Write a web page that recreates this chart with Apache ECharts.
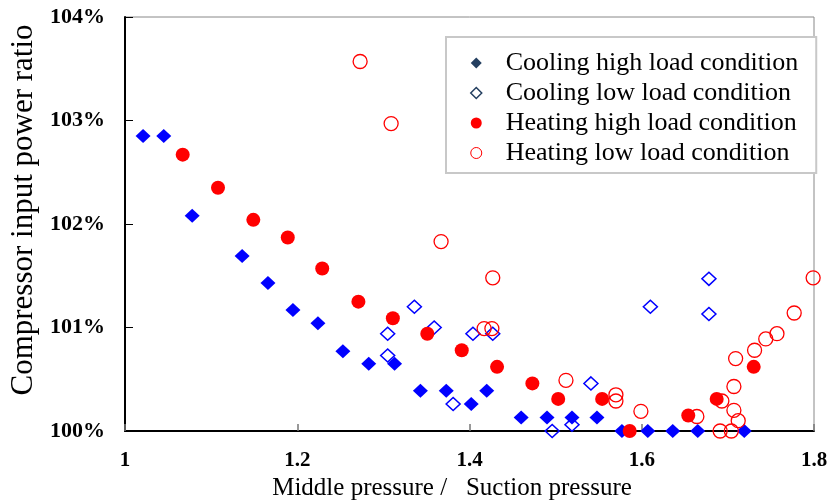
<!DOCTYPE html>
<html>
<head>
<meta charset="utf-8">
<script src="https://cdn.jsdelivr.net/npm/echarts@6/dist/echarts.min.js"></script>
<style>html,body{margin:0;padding:0;background:#fff;}#c{width:830px;height:503px;}</style>
</head>
<body>
<div id="c"></div>
<script>
var seriesNames = ['Cooling high load condition','Cooling low load condition','Heating high load condition','Heating low load condition'];
var xTicks = [1, 1.2, 1.4, 1.6, 1.8];
var yTicks = [100, 101, 102, 103, 104];
var coolingHigh = [
  [1.021,102.85],[1.045,102.85],[1.078,102.08],[1.136,101.69],[1.166,101.43],[1.195,101.17],
  [1.224,101.04],[1.253,100.77],[1.283,100.65],[1.313,100.65],[1.343,100.39],[1.373,100.39],
  [1.402,100.26],[1.420,100.39],[1.460,100.13],[1.490,100.13],[1.519,100.13],[1.548,100.13],
  [1.577,100.0],[1.607,100.0],[1.636,100.0],[1.665,100.0],[1.719,100.0]
];
var coolingLow = [
  [1.305,100.94],[1.305,100.73],[1.336,101.20],[1.359,101.00],[1.381,100.26],[1.404,100.94],
  [1.427,100.94],[1.496,100.0],[1.519,100.06],[1.541,100.46],[1.610,101.20],[1.678,101.47],[1.678,101.13]
];
var heatingHigh = [
  [1.067,102.67],[1.108,102.35],[1.149,102.04],[1.189,101.87],[1.229,101.57],[1.271,101.25],
  [1.311,101.09],[1.351,100.94],[1.391,100.78],[1.432,100.62],[1.473,100.46],[1.503,100.31],
  [1.554,100.31],[1.586,100.0],[1.654,100.15],[1.687,100.31],[1.730,100.62]
];
var heatingLow = [
  [1.273,103.57],[1.309,102.97],[1.367,101.83],[1.427,101.48],[1.417,100.99],[1.426,100.99],
  [1.512,100.49],[1.570,100.35],[1.570,100.29],[1.599,100.19],[1.664,100.14],[1.693,100.29],
  [1.707,100.43],[1.709,100.70],[1.707,100.20],[1.712,100.10],[1.691,100.0],[1.704,100.0],
  [1.731,100.78],[1.744,100.89],[1.757,100.94],[1.777,101.14],[1.799,101.48]
];

var serif = '"Liberation Serif","DejaVu Serif",serif';
var chart = echarts.init(document.getElementById('c'), null, {renderer:'canvas'});
chart.setOption({
  animation: false,
  backgroundColor: '#fff',
  grid: {left:125, right:16, top:17, bottom:72, outerBoundsMode:'none', containLabel:false,
         show:true, borderColor:'#888', borderWidth:1, backgroundColor:'transparent'},
  legend: {
    orient:'vertical', left:446, top:37,
    padding:[11,18,5,24], itemGap:0, itemWidth:11, itemHeight:11,
    borderColor:'#c8c8c8', borderWidth:2, backgroundColor:'#fff',
    textStyle:{fontFamily:serif, fontSize:26, color:'#000', lineHeight:30, padding:[0,0,0,19]},
    data:[
      {name:seriesNames[0], icon:'diamond', itemStyle:{color:'#243F60'}},
      {name:seriesNames[1], icon:'diamond', itemStyle:{color:'#fff', borderColor:'#243F60', borderWidth:1.5}},
      {name:seriesNames[2], icon:'circle', itemStyle:{color:'#FF0000'}},
      {name:seriesNames[3], icon:'circle', itemStyle:{color:'#fff', borderColor:'#FF0000', borderWidth:1}}
    ]
  },
  xAxis: {
    type:'value', min:xTicks[0], max:xTicks[xTicks.length-1], interval:0.2,
    name:'Middle pressure /   Suction pressure', nameLocation:'middle', nameGap:45,
    nameTextStyle:{fontFamily:serif, fontSize:25, color:'#000', padding:[0,35,0,0]},
    axisLine:{show:true, onZero:false, lineStyle:{color:'#000', width:2}},
    axisTick:{show:true, inside:true, length:7, lineStyle:{color:'#777', width:1.5}},
    axisLabel:{fontFamily:serif, fontSize:21, fontWeight:'bold', color:'#000', margin:19},
    splitLine:{show:false}
  },
  yAxis: {
    type:'value', min:yTicks[0], max:yTicks[yTicks.length-1], interval:1,
    name:'Compressor input power ratio', nameLocation:'middle', nameGap:85, nameRotate:90,
    nameTextStyle:{fontFamily:serif, fontSize:31, color:'#000', padding:[0,0,0,28]},
    axisLine:{show:true, onZero:false, lineStyle:{color:'#000', width:2}},
    axisTick:{show:true, inside:true, length:8, lineStyle:{color:'#000', width:1}},
    axisLabel:{fontFamily:serif, fontSize:22, fontWeight:'bold', color:'#000', margin:20, formatter:'{value}%'},
    splitLine:{show:false}
  },
  series: [
    {name:seriesNames[0], type:'scatter', data:coolingHigh, symbol:'diamond', symbolSize:[15,14],
     itemStyle:{color:'#0000FF', opacity:1}, clip:false},
    {name:seriesNames[1], type:'scatter', data:coolingLow, symbol:'diamond', symbolSize:[14,13],
     itemStyle:{color:'rgba(0,0,0,0)', borderColor:'#0000FF', borderWidth:1.5, opacity:1}, clip:false},
    {name:seriesNames[2], type:'scatter', data:heatingHigh, symbol:'circle', symbolSize:14,
     itemStyle:{color:'#FF0000', opacity:1}, clip:false},
    {name:seriesNames[3], type:'scatter', data:heatingLow, symbol:'circle', symbolSize:14,
     itemStyle:{color:'rgba(0,0,0,0)', borderColor:'#FF0000', borderWidth:1.3, opacity:1}, clip:false}
  ]
});
</script>
</body>
</html>
